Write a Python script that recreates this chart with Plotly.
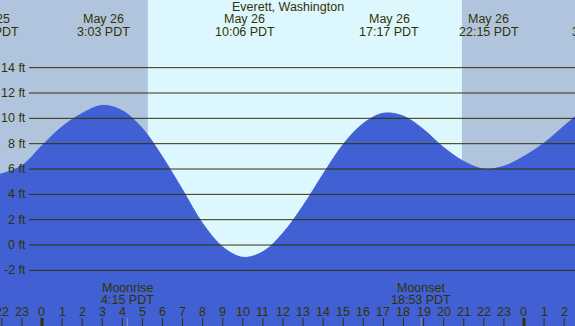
import plotly.graph_objects as go

# ---- data ----
hours = [-2.1, -1, 0, 1, 2, 3, 4, 5, 6, 7, 8, 9, 10, 11, 12, 13, 14,
         15, 16, 17, 18, 19, 20, 21, 22, 23, 24, 25, 26, 26.6]
heights = [5.58, 6.26, 7.85, 9.34, 10.39, 11.02, 10.6, 9.2, 6.95, 4.35,
           1.7, -0.15, -0.97, -0.53, 0.95, 3.1, 5.6, 7.95, 9.6, 10.4,
           10.17, 9.12, 7.7, 6.6, 6.0, 6.22, 7.0, 8.05, 9.4, 10.2]

ft_ticks = [-2, 0, 2, 4, 6, 8, 10, 12, 14]
ft_labels = [f"{t} ft" for t in ft_ticks]

hour_ticks = list(range(-2, 27))
hour_labels = [str(h % 24) for h in hour_ticks]

sunrise_h = 5.27
sunset_h = 20.91

extreme_hours = [-2.63, 3.05, 10.1, 17.28, 22.25, 27.73]
extreme_dates = ["May 25", "May 26", "May 26", "May 26", "May 26", "May 27"]
extreme_times = ["21:22 PDT", "3:03 PDT", "10:06 PDT", "17:17 PDT", "22:15 PDT", "3:44 PDT"]

moon_hours = [4.25, 18.883]
moon_names = ["Moonrise", "Moonset"]
moon_times = ["4:15 PDT", "18:53 PDT"]

title = "Everett, Washington"

# ---- style ----
W, H = 575, 326
x_range = [-2.091, 26.54]
y_range = [-6.39, 19.34]
TXT = "#333300"
NIGHT = "#B0C4DE"
DAY = "#DDF7FF"
TIDE = "#4060D4"
FONT = "Liberation Sans"
FS = 12.5


def py(pix):
    return 1 - pix / H


def px_paper(h):
    # map an hour onto paper coordinates via the x axis range
    return (h - x_range[0]) / (x_range[1] - x_range[0])


fig = go.Figure()
fig.add_trace(go.Scatter(x=hours, y=[y_range[0] - 1] * len(hours), mode="lines",
                         line=dict(width=0), hoverinfo="skip", showlegend=False))
fig.add_trace(go.Scatter(x=hours, y=heights, mode="lines", fill="tonexty",
                         fillcolor=TIDE, line=dict(color=TIDE, width=1, shape="spline"),
                         hoverinfo="skip", showlegend=False))

shapes = []
# night shading
shapes.append(dict(type="rect", xref="x", yref="paper", x0=x_range[0] - 1, x1=sunrise_h,
                   y0=0, y1=1, fillcolor=NIGHT, line=dict(width=0), layer="below"))
shapes.append(dict(type="rect", xref="x", yref="paper", x0=sunset_h, x1=x_range[1] + 1,
                   y0=0, y1=1, fillcolor=NIGHT, line=dict(width=0), layer="below"))
# gridlines
for t in ft_ticks:
    shapes.append(dict(type="line", xref="paper", yref="y", x0=29 / W, x1=1, y0=t, y1=t,
                       line=dict(color=TXT, width=1), layer="above"))
# hour ticks
for h in hour_ticks:
    shapes.append(dict(type="line", xref="x", yref="paper", x0=h, x1=h, y0=0, y1=8 / H,
                       line=dict(color=TXT, width=3 if h % 24 == 0 else 1), layer="above"))
# moon ticks
for h in moon_hours:
    shapes.append(dict(type="line", xref="x", yref="paper", x0=h, x1=h, y0=0, y1=8 / H,
                       line=dict(color="#8890A8", width=1), layer="above"))

ann = []
font = dict(family=FONT, size=FS, color=TXT)
ann.append(dict(text=title, x=0.5, xref="paper", y=py(7.5), yref="paper",
                showarrow=False, xanchor="center", yanchor="middle", font=font))
for h, d, t in zip(extreme_hours, extreme_dates, extreme_times):
    ann.append(dict(text=d, x=px_paper(h), xref="paper", y=py(19.5), yref="paper",
                    showarrow=False, xanchor="center", yanchor="middle", font=font))
    ann.append(dict(text=t, x=px_paper(h), xref="paper", y=py(31.5), yref="paper",
                    showarrow=False, xanchor="center", yanchor="middle", font=font))
for h, n, t in zip(moon_hours, moon_names, moon_times):
    ann.append(dict(text=n, x=h, xref="x", y=py(287.5), yref="paper", showarrow=False,
                    xanchor="center", yanchor="middle", font=font))
    ann.append(dict(text=t, x=h, xref="x", y=py(300), yref="paper", showarrow=False,
                    xanchor="center", yanchor="middle", font=font))
for h, l in zip(hour_ticks, hour_labels):
    ann.append(dict(text=l, x=h, xref="x", y=py(311.5), yref="paper", showarrow=False,
                    xanchor="center", yanchor="middle", font=font))
for t, l in zip(ft_ticks, ft_labels):
    ann.append(dict(text=l, x=27.5 / W, xref="paper", y=t, yref="y", showarrow=False,
                    xanchor="right", yanchor="middle", font=font))

fig.update_layout(
    width=W, height=H, margin=dict(l=0, r=0, t=0, b=0),
    paper_bgcolor=DAY, plot_bgcolor=DAY,
    xaxis=dict(range=x_range, visible=False, fixedrange=True),
    yaxis=dict(range=y_range, visible=False, fixedrange=True),
    shapes=shapes, annotations=ann, showlegend=False,
)
fig.write_html("out.html", config={"displayModeBar": False},
               post_script="document.body.style.margin='0';document.body.style.padding='0';"
                           "document.body.style.overflow='hidden';")
